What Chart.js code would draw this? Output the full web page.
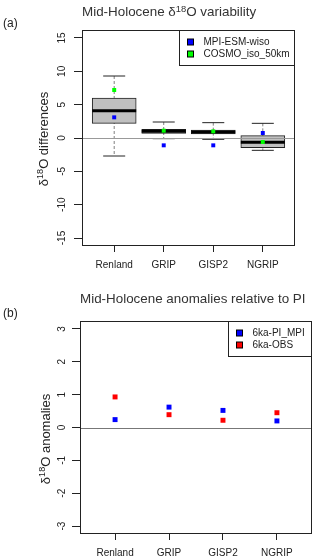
<!DOCTYPE html>
<html>
<head>
<meta charset="utf-8">
<script src="https://cdn.jsdelivr.net/npm/chart.js@4.4.1/dist/chart.umd.min.js"></script>
<style>
  body { margin: 0; background: #fff; font-family: 'Liberation Sans', Arial, sans-serif; }
  #page { position: relative; width: 320px; height: 560px; overflow: hidden; background: #fff; }
  canvas { position: absolute; left: 0; }
  .txt { position: absolute; white-space: nowrap; line-height: 1; color: #222; }
  .title { font-size: 13.4px; color: #333; }
  .panel { font-size: 12px; }
  .ylab { font-size: 13px; transform: translate(-50%, -50%) rotate(-90deg); }
  sup { font-size: 0.7em; vertical-align: 0.45em; line-height: 0; }
</style>
</head>
<body>
<div id="page">
  <canvas id="chartA" width="320" height="280" style="top:0"></canvas>
  <canvas id="chartB" width="320" height="280" style="top:280px"></canvas>
  <div class="txt panel" style="left:3px;top:17px">(a)</div>
  <div class="txt title" style="left:82px;top:5px">Mid-Holocene δ<sup>18</sup>O variability</div>
  <div class="txt ylab" style="left:43px;top:139px">δ<sup>18</sup>O differences</div>
  <div class="txt panel" style="left:3px;top:307px">(b)</div>
  <div class="txt title" style="left:80px;top:292px">Mid-Holocene anomalies relative to PI</div>
  <div class="txt ylab" style="left:45px;top:439px">δ<sup>18</sup>O anomalies</div>
</div>
<script>
// sites on the x axis
const sites = ['Renland', 'GRIP', 'GISP2', 'NGRIP']

// (a) boxplot statistics of the mid-Holocene d18O differences
const whiskerHigh = [9.3, 2.4, 2.3, 2.2]
const boxQ3 = [6.0, 1.3, 1.2, 0.35]
const boxMedian = [4.1, 1.0, 0.9, -0.65]
const boxQ1 = [2.2, 0.7, 0.6, -1.45]
const whiskerLow = [-2.7, -0.1, -0.2, -1.85]
const mpiWiso = [3.1, -1.1, -1.1, 0.75]
const cosmoIso = [7.2, 1.1, 1.0, -0.6]

// (b) 6ka anomalies
const mpiAnomaly = [0.24, 0.62, 0.52, 0.2]
const obsAnomaly = [0.93, 0.39, 0.22, 0.45]

const ticksA = [-15, -10, -5, 0, 5, 10, 15]
const ticksB = [-3, -2, -1, 0, 1, 2, 3]

const BLUE = '#0000ff'
const GREEN = '#00ff00'
const RED = '#ff0000'

Chart.defaults.font.family = "'Liberation Sans', Arial, sans-serif"
Chart.defaults.font.size = 10
Chart.defaults.color = '#222'

const points = (vals) => vals.map((y, i) => ({x: i + 1, y}))

// dashed whiskers: one segment per site, broken by a null
const whiskerSegments = () => {
  const out = []
  sites.forEach((s, i) => {
    out.push({x: i + 1, y: whiskerHigh[i]}, {x: i + 1, y: whiskerLow[i]}, {x: i + 1, y: null})
  })
  return out
}

// R-like decorations: frame, abline(h=0), rotated y labels, legend box
const rStyle = {
  id: 'rStyle',
  afterDatasetsDraw(chart, args, opts) {
    const {ctx, chartArea: a, scales: {y}} = chart
    const y0 = Math.round(y.getPixelForValue(0)) + 0.5
    ctx.save()
    ctx.strokeStyle = opts.zeroColor
    ctx.lineWidth = 1
    ctx.beginPath()
    ctx.moveTo(a.left, y0)
    ctx.lineTo(a.right, y0)
    ctx.stroke()
    ctx.restore()
  },
  afterDraw(chart, args, opts) {
    const {ctx, chartArea: a, scales: {y}} = chart
    ctx.save()
    ctx.strokeStyle = '#222'
    ctx.lineWidth = 1
    ctx.strokeRect(a.left + 0.5, a.top + 0.5, a.right - a.left - 1, a.bottom - a.top - 1)

    ctx.fillStyle = '#222'
    ctx.font = "10px 'Liberation Sans', Arial, sans-serif"
    ctx.textAlign = 'center'
    ctx.textBaseline = 'middle'
    y.ticks.forEach((t) => {
      ctx.save()
      ctx.translate(a.left - opts.labelGap, y.getPixelForValue(t.value))
      ctx.rotate(-Math.PI / 2)
      ctx.fillText(String(t.value), 0, 0)
      ctx.restore()
    })

    const items = chart.data.datasets.filter((d) => opts.legend.includes(d.label))
    const textW = Math.max(...items.map((d) => ctx.measureText(d.label).width))
    const w = 24 + textW + opts.legendPad
    const h = 35
    const left = Math.round(a.right - w) + 0.5
    const top = a.top + 0.5
    ctx.fillStyle = '#fff'
    ctx.fillRect(left, top, w, h)
    ctx.strokeRect(left, top, a.right - 0.5 - left, h)
    ctx.textAlign = 'left'
    items.forEach((d, i) => {
      const cy = Math.round(a.top + 12 + i * 11.5)
      ctx.fillStyle = d.backgroundColor
      ctx.fillRect(left + 8, cy - 3, 6, 6)
      ctx.strokeStyle = '#000'
      ctx.strokeRect(left + 8, cy - 3, 6, 6)
      ctx.fillStyle = '#222'
      ctx.fillText(d.label, left + 24, cy)
    })
    ctx.restore()
  }
}

const xScale = (height) => ({
  type: 'linear',
  min: 0.35,
  max: 4.65,
  offset: false,
  afterBuildTicks: (s) => { s.ticks = sites.map((n, i) => ({value: i + 1})) },
  afterFit: (s) => { s.height = height },
  ticks: {
    autoSkip: false,
    maxRotation: 0,
    padding: 7,
    callback: (v) => sites[v - 1] || ''
  },
  grid: {drawOnChartArea: false, drawTicks: true, tickLength: 6, color: '#222', offset: false},
  border: {display: false}
})

const yScale = (min, max, ticks, width) => ({
  type: 'linear',
  min,
  max,
  afterBuildTicks: (s) => { s.ticks = ticks.map((v) => ({value: v})) },
  afterFit: (s) => { s.width = width },
  ticks: {display: false},
  grid: {drawOnChartArea: false, drawTicks: true, tickLength: 8, color: '#222'},
  border: {display: false}
})

const common = {
  responsive: false,
  animation: false,
  events: [],
  plugins: {legend: {display: false}, tooltip: {enabled: false}}
}

new Chart(document.getElementById('chartA'), {
  type: 'bar',
  data: {
    datasets: [
      {
        type: 'line',
        label: 'whiskers',
        data: whiskerSegments(),
        borderColor: '#808080',
        borderWidth: 1,
        borderDash: [3, 2],
        pointRadius: 0,
        spanGaps: false,
        order: 4
      },
      {
        type: 'bar',
        label: 'box',
        data: sites.map((s, i) => ({x: i + 1, y: [boxQ1[i], boxQ3[i]]})),
        backgroundColor: '#c0c0c0',
        borderColor: '#222',
        borderWidth: 1,
        borderSkipped: false,
        barThickness: 44,
        order: 3
      },
      {
        type: 'scatter',
        label: 'caps',
        data: points(whiskerHigh).concat(points(whiskerLow)),
        pointStyle: 'line',
        pointRadius: 11,
        borderColor: '#222',
        borderWidth: 1,
        order: 2
      },
      {
        type: 'scatter',
        label: 'median',
        data: points(boxMedian),
        pointStyle: 'line',
        pointRadius: 22,
        borderColor: '#000',
        borderWidth: 3,
        order: 2
      },
      {
        type: 'scatter',
        label: 'MPI-ESM-wiso',
        data: points(mpiWiso),
        pointStyle: 'rect',
        pointRadius: 2.8,
        backgroundColor: BLUE,
        borderColor: BLUE,
        borderWidth: 0,
        order: 1
      },
      {
        type: 'scatter',
        label: 'COSMO_iso_50km',
        data: points(cosmoIso),
        pointStyle: 'rect',
        pointRadius: 2.8,
        backgroundColor: GREEN,
        borderColor: GREEN,
        borderWidth: 0,
        order: 1
      }
    ]
  },
  options: {
    ...common,
    layout: {padding: {left: 0, right: 5, top: 30, bottom: 0}},
    scales: {
      x: xScale(34),
      y: yScale(-16.2, 16.2, ticksA, 82)
    },
    plugins: {
      ...common.plugins,
      rStyle: {zeroColor: '#999', labelGap: 20, legendPad: 6, legend: ['MPI-ESM-wiso', 'COSMO_iso_50km']}
    }
  },
  plugins: [rStyle]
})

new Chart(document.getElementById('chartB'), {
  type: 'scatter',
  data: {
    datasets: [
      {
        label: '6ka-PI_MPI',
        data: points(mpiAnomaly),
        pointStyle: 'rect',
        pointRadius: 3.5,
        backgroundColor: BLUE,
        borderColor: BLUE,
        borderWidth: 0
      },
      {
        label: '6ka-OBS',
        data: points(obsAnomaly),
        pointStyle: 'rect',
        pointRadius: 3.5,
        backgroundColor: RED,
        borderColor: RED,
        borderWidth: 0
      }
    ]
  },
  options: {
    ...common,
    layout: {padding: {left: 0, right: 8, top: 41, bottom: 0}},
    scales: {
      x: xScale(26),
      y: yScale(-3.24, 3.24, ticksB, 80)
    },
    plugins: {
      ...common.plugins,
      rStyle: {zeroColor: '#777', labelGap: 18, legendPad: 8, legend: ['6ka-PI_MPI', '6ka-OBS']}
    }
  },
  plugins: [rStyle]
})
</script>
</body>
</html>
